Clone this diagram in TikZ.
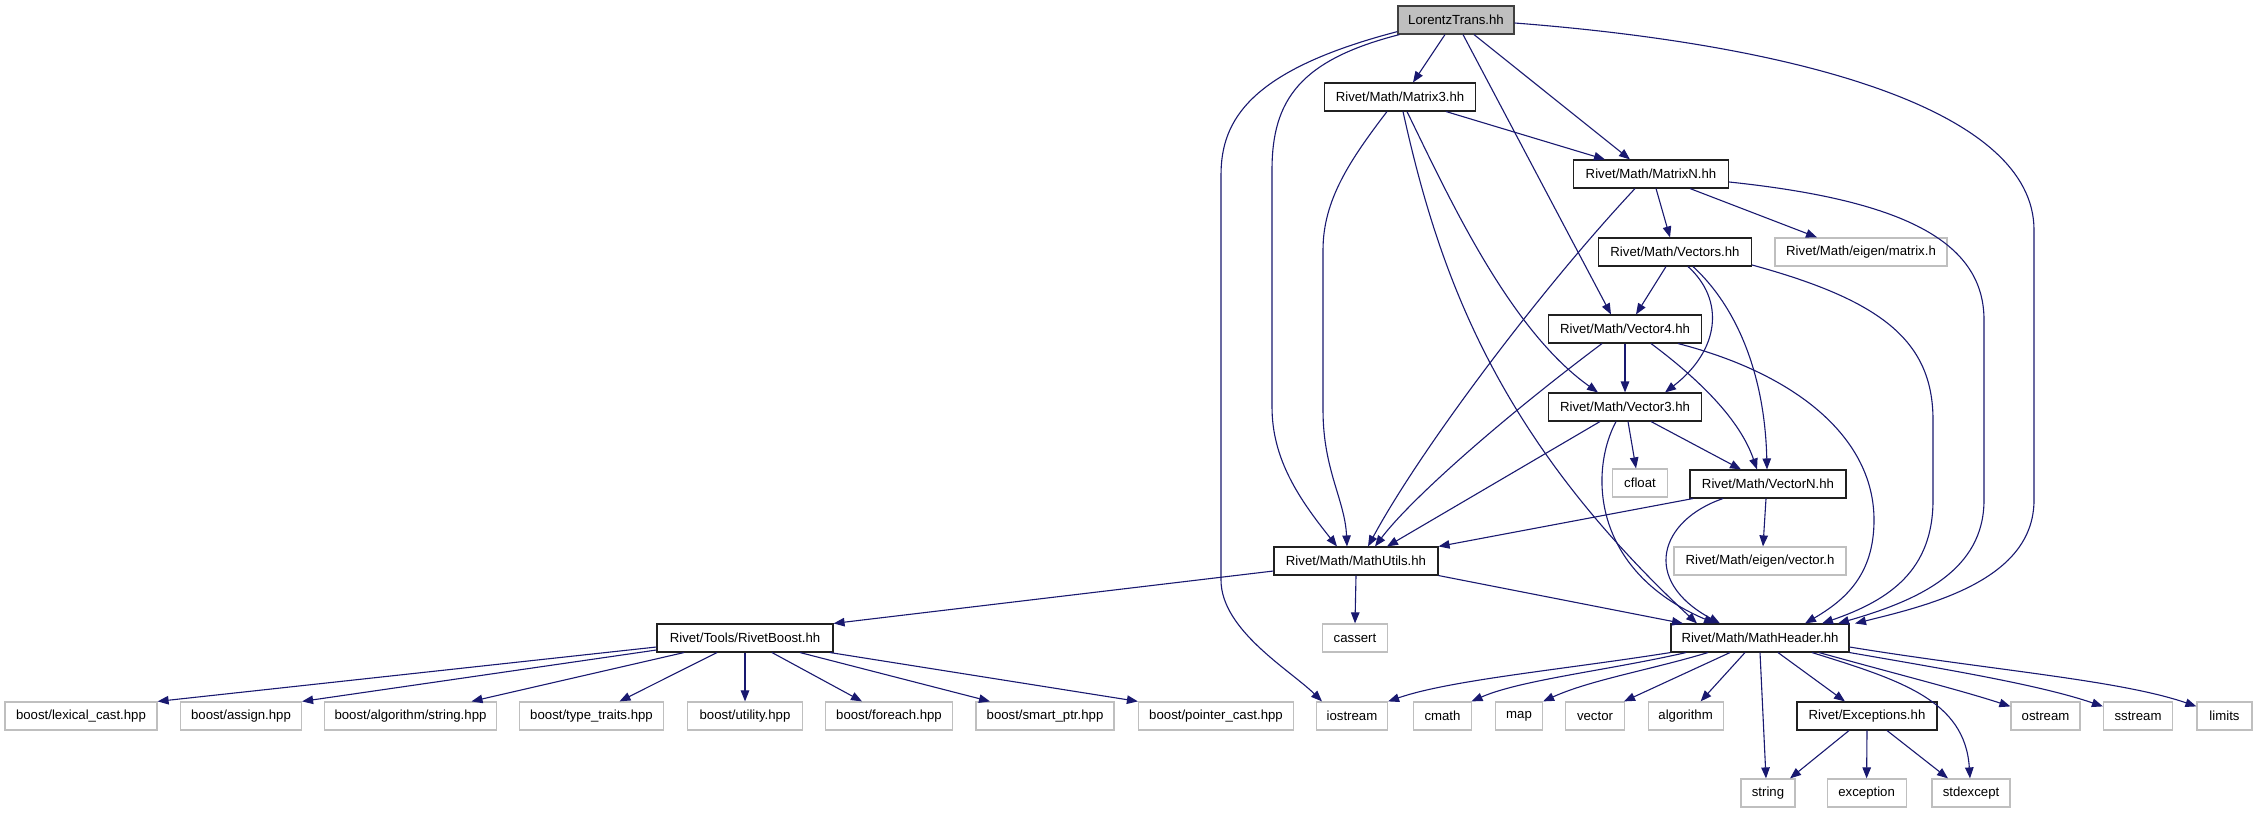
\documentclass[tikz,border=0pt]{standalone}
\usepackage{fontspec}
\setmainfont{Liberation Sans}
\usetikzlibrary{arrows.meta}
\definecolor{edgeblue}{HTML}{191970}
\definecolor{extgray}{HTML}{BFBFBF}
\definecolor{rootfill}{HTML}{BFBFBF}
\definecolor{rootdraw}{HTML}{404040}
\definecolor{incdraw}{HTML}{202020}
\tikzset{
  inc/.style={draw=incdraw, line width=1.1pt, minimum height=28pt, inner sep=0pt, font=\fontsize{13.2}{16}\selectfont},
  ext/.style={inc, draw=extgray, line width=1.2pt},
  root/.style={inc, fill=rootfill, draw=rootdraw, line width=1.2pt},
  e/.style={draw=edgeblue, line width=1.1pt, -{Triangle[length=11pt,width=8.5pt]}}
}
\begin{document}
\begin{tikzpicture}[x=1pt,y=-1pt]
\path[use as bounding box, fill=white] (0,0) rectangle (2256,813);
% nodes
\node[root, minimum width=116pt] (lt) at (1456,20) {LorentzTrans.hh};
\node[inc, minimum width=151pt] (m3) at (1400,97) {Rivet/Math/Matrix3.hh};
\node[inc, minimum width=155pt] (mn) at (1651,174) {Rivet/Math/MatrixN.hh};
\node[inc, minimum width=153pt] (vs) at (1675,252) {Rivet/Math/Vectors.hh};
\node[ext, minimum width=172pt] (em) at (1861,252) {Rivet/Math/eigen/matrix.h};
\node[inc, minimum width=153pt] (v4) at (1625,329) {Rivet/Math/Vector4.hh};
\node[inc, minimum width=153pt] (v3) at (1625,407) {Rivet/Math/Vector3.hh};
\node[ext, minimum width=55pt] (cf) at (1640,483) {cfloat};
\node[inc, minimum width=156pt] (vn) at (1768,484) {Rivet/Math/VectorN.hh};
\node[inc, minimum width=164pt] (mu) at (1356,561) {Rivet/Math/MathUtils.hh};
\node[ext, minimum width=172pt] (ev) at (1760,561) {Rivet/Math/eigen/vector.h};
\node[ext, minimum width=65pt] (ca) at (1355,638) {cassert};
\node[inc, minimum width=178pt] (mh) at (1760,638) {Rivet/Math/MathHeader.hh};
\node[inc, minimum width=176pt] (rb) at (745,638) {Rivet/Tools/RivetBoost.hh};
\node[ext, minimum width=152pt] (b1) at (81,716) {boost/lexical\_cast.hpp};
\node[ext, minimum width=121pt] (b2) at (241,716) {boost/assign.hpp};
\node[ext, minimum width=172pt] (b3) at (410.5,716) {boost/algorithm/string.hpp};
\node[ext, minimum width=144pt] (b4) at (591.5,716) {boost/type\_traits.hpp};
\node[ext, minimum width=115pt] (b5) at (745,716) {boost/utility.hpp};
\node[ext, minimum width=127pt] (b6) at (889,716) {boost/foreach.hpp};
\node[ext, minimum width=138pt] (b7) at (1045,716) {boost/smart\_ptr.hpp};
\node[ext, minimum width=155pt] (b8) at (1216,716) {boost/pointer\_cast.hpp};
\node[ext, minimum width=71pt] (io) at (1352,716) {iostream};
\node[ext, minimum width=58pt] (cm) at (1442.5,716) {cmath};
\node[ext, minimum width=47pt] (mp) at (1519,716) {map};
\node[ext, minimum width=59pt] (ve) at (1595,716) {vector};
\node[ext, minimum width=75pt] (al) at (1685.6,716) {algorithm};
\node[inc, minimum width=140pt] (ex) at (1867,716) {Rivet/Exceptions.hh};
\node[ext, minimum width=69pt] (os) at (2045.5,716) {ostream};
\node[ext, minimum width=69pt] (ss) at (2138,716) {sstream};
\node[ext, minimum width=55pt] (li) at (2224.5,716) {limits};
\node[ext, minimum width=54pt] (st) at (1768,793) {string};
\node[ext, minimum width=79pt] (exc) at (1866.6,793) {exception};
\node[ext, minimum width=78pt] (sd) at (1971,793) {stdexcept};
% edges from LorentzTrans
\draw[e] ([xshift=-11pt]lt.south) -- ([xshift=13pt]m3.north);
\draw[e] ([xshift=18pt]lt.south) -- ([xshift=-21pt]mn.north);
\draw[e] ([xshift=7pt]lt.south) -- ([xshift=-14pt]v4.north);
\draw[e] ([xshift=2pt]lt.south west) .. controls (1300,60) and (1272,100) .. (1272,170) -- (1272,407) .. controls (1272,460) and (1300,500) .. ([xshift=-19pt]mu.north);
\draw[e] ([yshift=3pt]lt.south west) .. controls (1250,70) and (1221,120) .. (1221,175) -- (1221,580) .. controls (1221,630) and (1290,670) .. ([xshift=-30pt]io.north);
\draw[e] ([yshift=-3pt]lt.east) .. controls (1800,45) and (2034,110) .. (2034,230) -- (2034,500) .. controls (2034,580) and (1930,605) .. ([xshift=95pt]mh.north);
% Matrix3
\draw[e] ([xshift=46pt]m3.south) -- ([xshift=-46pt]mn.north);
\draw[e] ([xshift=-13pt]m3.south) .. controls (1350,160) and (1323,200) .. (1323,250) -- (1323,410) .. controls (1323,470) and (1345,500) .. ([xshift=-9pt]mu.north);
\draw[e] ([xshift=3pt]m3.south) .. controls (1440,280) and (1500,440) .. ([xshift=-63pt]mh.north);
\draw[e] ([xshift=7pt]m3.south) .. controls (1450,200) and (1510,330) .. ([xshift=-27pt]v3.north);
% MatrixN
\draw[e] ([xshift=5pt]mn.south) -- ([xshift=-5pt]vs.north);
\draw[e] ([xshift=39pt]mn.south) -- ([xshift=-44pt]em.north);
\draw[e] ([xshift=-16pt]mn.south) .. controls (1540,290) and (1420,450) .. ([xshift=12pt]mu.north);
\draw[e] ([yshift=-8pt]mn.east) .. controls (1900,200) and (1984,240) .. (1984,320) -- (1984,500) .. controls (1984,570) and (1920,600) .. ([xshift=78pt]mh.north);
% Vectors
\draw[e] ([xshift=-9pt]vs.south) -- ([xshift=11pt]v4.north);
\draw[e] ([xshift=13pt]vs.south) .. controls (1725,300) and (1720,350) .. ([xshift=40pt]v3.north);
\draw[e] ([xshift=18pt]vs.south) .. controls (1740,310) and (1765,380) .. ([xshift=-1pt]vn.north);
\draw[e] ([yshift=-13pt]vs.east) .. controls (1880,300) and (1933,340) .. (1933,420) -- (1933,500) .. controls (1933,570) and (1890,600) .. ([xshift=62pt]mh.north);
% Vector4
\draw[e] (v4.south) -- (v3.north);
\draw[e] ([xshift=-23pt]v4.south) .. controls (1500,420) and (1410,500) .. ([xshift=19pt]mu.north);
\draw[e] ([xshift=26pt]v4.south) .. controls (1700,380) and (1740,420) .. ([xshift=-11pt]vn.north);
\draw[e] ([xshift=53pt]v4.south) .. controls (1800,375) and (1874,440) .. (1874,520) .. controls (1874,575) and (1845,600) .. ([xshift=45pt]mh.north);
% Vector3
\draw[e] ([xshift=-25pt]v3.south) -- ([xshift=31pt]mu.north);
\draw[e] ([xshift=3pt]v3.south) -- ([xshift=-4pt]cf.north);
\draw[e] ([xshift=26pt]v3.south) -- ([xshift=-27pt]vn.north);
\draw[e] ([xshift=-9pt]v3.south) .. controls (1590,470) and (1590,570) .. ([xshift=-45pt]mh.north);
% VectorN
\draw[e] ([xshift=-75pt]vn.south) -- (mu.north east);
\draw[e] ([xshift=-2pt]vn.south) -- ([xshift=3pt]ev.north);
\draw[e] ([xshift=-45pt]vn.south) .. controls (1660,520) and (1640,580) .. ([xshift=-40pt]mh.north);
% MathUtils
\draw[e] ([yshift=-10pt]mu.west) -- (rb.north east);
\draw[e] (mu.south) -- (ca.north);
\draw[e] (mu.south east) -- ([xshift=-77pt]mh.north);
% RivetBoost
\draw[e] ([yshift=-9pt]rb.west) -- (b1.north east);
\draw[e] ([yshift=-12pt]rb.west) -- (b2.north east);
\draw[e] ([xshift=-61pt]rb.south) -- ([xshift=61pt]b3.north);
\draw[e] ([xshift=-28pt]rb.south) -- ([xshift=28pt]b4.north);
\draw[e] (rb.south) -- (b5.north);
\draw[e] ([xshift=27pt]rb.south) -- ([xshift=-27pt]b6.north);
\draw[e] ([xshift=55pt]rb.south) -- ([xshift=-55pt]b7.north);
\draw[e] ([xshift=85pt]rb.south) -- (b8.north west);
% MathHeader
\draw[e] (mh.south west) .. controls (1560,670) and (1450,680) .. (io.north east);
\draw[e] ([xshift=-74pt]mh.south) .. controls (1610,670) and (1520,680) .. ([xshift=29pt]cm.north);
\draw[e] ([xshift=-52pt]mh.south) .. controls (1650,670) and (1590,680) .. (mp.north east);
\draw[e] ([xshift=-30pt]mh.south) -- ([xshift=29pt]ve.north);
\draw[e] ([xshift=-15pt]mh.south) -- ([xshift=15pt]al.north);
\draw[e] (mh.south) -- ([xshift=-2pt]st.north);
\draw[e] ([xshift=18pt]mh.south) -- ([xshift=-22pt]ex.north);
\draw[e] ([xshift=52pt]mh.south) .. controls (1900,680) and (1965,700) .. ([xshift=-1pt]sd.north);
\draw[e] ([xshift=59pt]mh.south) .. controls (1900,675) and (1960,690) .. ([yshift=-5pt]os.north west);
\draw[e] (mh.south east) .. controls (1950,670) and (2040,685) .. ([yshift=-5pt]ss.north west);
\draw[e] ([yshift=-9pt]mh.east) .. controls (1990,670) and (2120,680) .. ([yshift=-5pt]li.north west);
% Exceptions
\draw[e] ([xshift=-18pt]ex.south) -- ([xshift=22pt]st.north);
\draw[e] (ex.south) -- (exc.north);
\draw[e] ([xshift=20pt]ex.south) -- ([xshift=-23pt]sd.north);
\end{tikzpicture}
\end{document}
